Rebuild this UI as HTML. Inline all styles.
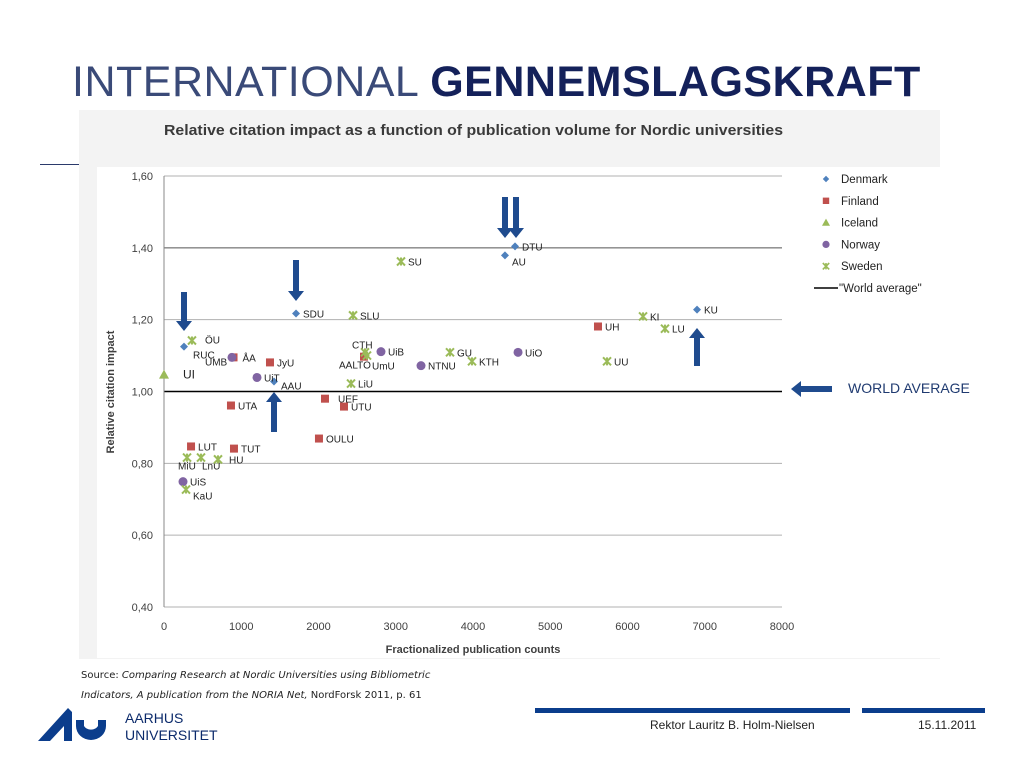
<!DOCTYPE html>
<html><head><meta charset="utf-8">
<style>
body{margin:0;width:1021px;height:766px;background:#fff;position:relative;overflow:hidden;font-family:"Liberation Sans",sans-serif}
.abs{position:absolute}
</style></head><body>
<div class="abs" style="left:72px;top:58px;font-size:43px;letter-spacing:0.5px;white-space:nowrap"><span style="color:#3a4a78;font-weight:normal">INTERNATIONAL</span> <span style="color:#14215a;font-weight:bold">GENNEMSLAGSKRAFT</span></div>
<div class="abs" style="left:40px;top:164px;width:40px;height:1px;background:#2b3a6b"></div>
<svg class="abs" style="left:0;top:0" width="1021" height="766" id="chart">
<rect x="79" y="110" width="861" height="549" fill="#f3f3f3"/>
<rect x="97" y="167" width="843" height="491" fill="#fff"/>
<text x="164" y="135" font-size="14.5" font-weight="bold" fill="#3a3a3a" textLength="619" lengthAdjust="spacingAndGlyphs" font-family="Liberation Sans">Relative citation impact as a function of publication volume for Nordic universities</text>
<g id="grid"></g><g id="pts"></g>
<text transform="translate(114,392) rotate(-90)" text-anchor="middle" font-size="11" font-weight="bold" fill="#404040">Relative citation impact</text>
<text x="473" y="653" text-anchor="middle" font-size="11" font-weight="bold" fill="#404040">Fractionalized publication counts</text>
<g id="legend"></g><g id="arrows" fill="#1f4b8e"></g>
<text x="848" y="393" font-size="14" fill="#1f3a70">WORLD AVERAGE</text>
</svg>
<div class="abs" style="left:81px;top:666px;font-family:'DejaVu Sans',sans-serif;font-size:10px;line-height:20px;color:#222">Source: <i>Comparing Research at Nordic Universities using Bibliometric<br>Indicators, A publication from the NORIA Net,</i> NordForsk 2011, p. 61</div>
<svg class="abs" style="left:38px;top:706px" width="70" height="36"><polygon points="0,35 30,2 34,6 34,35 26,35 26,20 12,35" fill="#0b3d8c"/><path d="M38,20 A15,14 0 0 0 68,20 L68,14 L60,14 L60,20 A8,7 0 0 1 46,20 L46,14 L38,14 Z" fill="#0b3d8c"/></svg>
<div class="abs" style="left:125px;top:710px;font-size:14px;line-height:17px;color:#0b2a6b">AARHUS<br>UNIVERSITET</div>
<div class="abs" style="left:535px;top:708px;width:315px;height:5px;background:#0b3d8c"></div>
<div class="abs" style="left:862px;top:708px;width:123px;height:5px;background:#0b3d8c"></div>
<div class="abs" style="left:650px;top:718px;font-size:12px;color:#222">Rektor Lauritz B. Holm-Nielsen</div>
<div class="abs" style="left:918px;top:718px;font-size:12px;color:#222">15.11.2011</div>
<script>
const countries=["Denmark","Finland","Iceland","Norway","Sweden"];
const colors=["#4f81bd","#c0504d","#9bbb59","#8064a2","#9bbb59"];
const xTicks=[0,1000,2000,3000,4000,5000,6000,7000,8000];
const yTicks=[0.4,0.6,0.8,1.0,1.2,1.4,1.6];
const names=["DTU","AU","SDU","KU","RUC","AAU","UH","JyU","UEF","UTU","UTA","OULU","LUT","TUT","ÅA","AALTO","UI","UMB","UiB","NTNU","UiO","UiT","UiS","SU","SLU","ÖU","CTH","UmU","GU","KTH","LiU","KI","LU","UU","MiU","LnU","HU","KaU"];
const group=[0,0,0,0,0,0,1,1,1,1,1,1,1,1,1,1,2,3,3,3,3,3,3,4,4,4,4,4,4,4,4,4,4,4,4,4,4,4];
const pubs=[4544,4414,1709,6900,259,1424,5618,1372,2084,2330,867,2006,350,906,900,2589,0,880,2809,3327,4583,1204,246,3068,2447,362,2602,2628,3702,3987,2421,6201,6485,5735,298,479,699,285];
const impact=[1.404,1.379,1.217,1.228,1.125,1.028,1.181,1.081,0.98,0.958,0.961,0.869,0.847,0.841,1.095,1.097,1.047,1.095,1.111,1.072,1.109,1.039,0.749,1.362,1.212,1.142,1.109,1.100,1.109,1.084,1.022,1.209,1.175,1.084,0.816,0.816,0.811,0.727];
const worldAverage=1.0;
const labDx={"UI":12,"RUC":2,"UMB":-34,"MiU":-16,"LnU":-6,"HU":4,"CTH":-20,"AALTO":-32,"UmU":-2,"KaU":0,"UEF":6,"ÖU":6,"ÅA":2};
const labDy={"RUC":8,"UMB":4,"MiU":8,"LnU":8,"CTH":-8,"AALTO":8,"UmU":10,"KaU":6,"UEF":0,"AU":6,"ÖU":-1,"AAU":4};
const NS="http://www.w3.org/2000/svg";
const X=v=>164+v*(782-164)/8000, Y=v=>607-(v-0.4)*(607-176)/1.2;
function mk(t,a,p){const e=document.createElementNS(NS,t);for(const k in a)e.setAttribute(k,a[k]);p.appendChild(e);return e;}
const grid=document.getElementById('grid'),pts=document.getElementById('pts');
yTicks.forEach(t=>{
 const l=mk('line',{x1:X(0),x2:X(8000),y1:Y(t),y2:Y(t),stroke:Math.abs(t-worldAverage)<1e-6?'#000':(t==1.4?'#555':'#b0b0b0'),'stroke-width':Math.abs(t-worldAverage)<1e-6?1.5:1},grid);
 
 
 const tx=mk('text',{x:153,y:Y(t)+4,'text-anchor':'end','font-size':11,fill:'#404040'},grid);tx.textContent=t.toFixed(2).replace('.',',');
 
 
});
const ax=mk('line',{x1:X(0),x2:X(0),y1:Y(1.6),y2:Y(0.4),stroke:'#888'},grid);


xTicks.forEach(t=>{const tx=mk('text',{x:X(t),y:630,'text-anchor':'middle','font-size':11,fill:'#404040'},grid);tx.textContent=t;
 
 });
function marker(g,x,y,p){let e;const c=colors[g];
 if(g==0)e=mk('polygon',{points:`${x},${y-4} ${x+4},${y} ${x},${y+4} ${x-4},${y}`,fill:c},p);
 else if(g==1)e=mk('rect',{x:x-4,y:y-4,width:8,height:8,fill:c},p);
 else if(g==2)e=mk('polygon',{points:`${x},${y-5} ${x+5},${y+4} ${x-5},${y+4}`,fill:c},p);
 else if(g==3)e=mk('circle',{cx:x,cy:y,r:4.5,fill:c},p);
 else e=mk('path',{d:`M${x-4},${y-4}L${x+4},${y+4}M${x+4},${y-4}L${x-4},${y+4}M${x},${y-4}L${x},${y+4}`,stroke:c,'stroke-width':2},p);
 return e;}
names.forEach((n,i)=>{const x=X(pubs[i]),y=Y(impact[i]);
 const m=marker(group[i],x,y,pts);
 
 
 const t=mk('text',{x:x+7+(labDx[n]||0),y:y+4+(labDy[n]||0),'font-size':n=='UI'?12:10,fill:'#222'},pts);t.textContent=n;
 
 });
const lg=document.getElementById('legend');
countries.forEach((c,i)=>{const y=179+i*21.8;const m=marker(i,826,y,lg);m.setAttribute('transform',`translate(826,${y}) scale(0.8) translate(-826,${-y})`);
 const t=mk('text',{x:841,y:y+4,'font-size':11.5,fill:'#222'},lg);t.textContent=c;
 
 });
mk('line',{x1:814,x2:838,y1:288,y2:288,stroke:'#000','stroke-width':1.5},lg);
const wt=mk('text',{x:839,y:292,'font-size':11.5,fill:'#222'},lg);wt.textContent='"World average"';


const ar=document.getElementById('arrows');
function down(x,y1,y2){return mk('polygon',{points:`${x-3},${y1} ${x+3},${y1} ${x+3},${y2-10} ${x+8},${y2-10} ${x},${y2} ${x-8},${y2-10} ${x-3},${y2-10}`},ar);}
function up(x,y1,y2){return mk('polygon',{points:`${x-3},${y2} ${x+3},${y2} ${x+3},${y1+10} ${x+8},${y1+10} ${x},${y1} ${x-8},${y1+10} ${x-3},${y1+10}`},ar);}
[[184,292,331],[296,260,301],[505,197,238],[516,197,238]].forEach(a=>{const e=down(...a);
 });
[[274,392,432],[697,328,366]].forEach(a=>{const e=up(...a);
 });
const wa=mk('polygon',{points:'832,386 832,392 801,392 801,397 791,389 801,381 801,386'},ar);


</script>
</body></html>
